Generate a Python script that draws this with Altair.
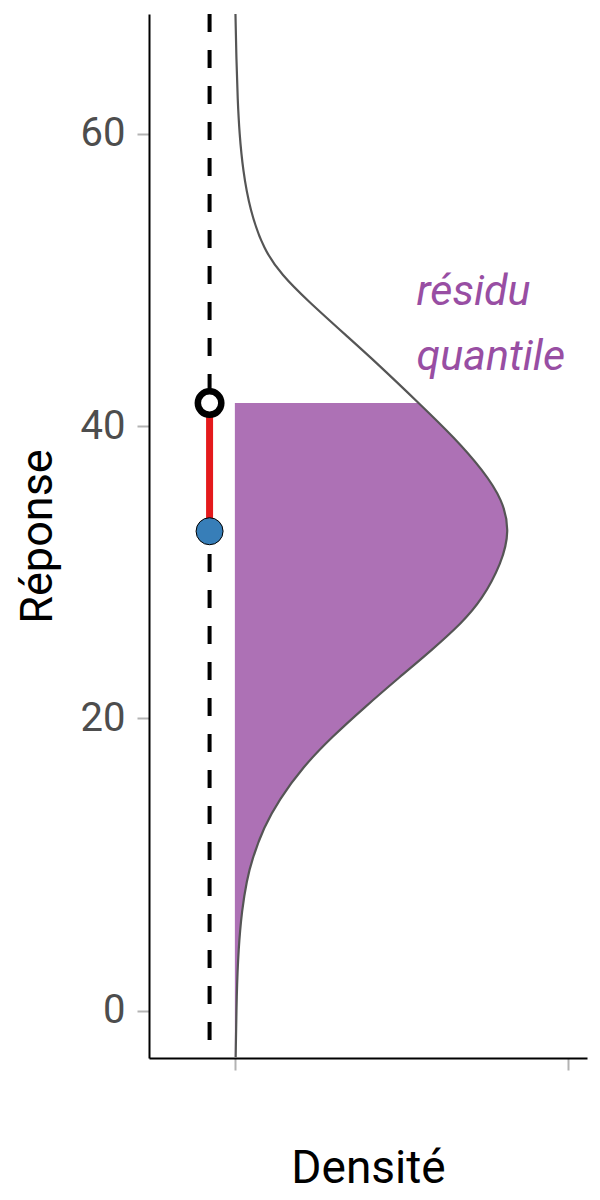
import altair as alt
import pandas as pd

# courbe de densité (réponse croissante)
reponse = [-3.18, 1.20, 4.15, 6.88, 8.94, 10.30, 12.56, 14.41, 16.67, 18.72, 20.77,
           22.83, 24.67, 26.52, 28.09, 30.63, 32.82, 34.94, 36.99, 39.18, 41.57,
           44.31, 46.09, 48.62, 50.33, 52.04, 54.78, 57.52, 60.05, 62.31, 65.04, 68.19]
densite = [0.00012, 0.00027, 0.00053, 0.00105, 0.0018, 0.00255, 0.00435, 0.00661,
           0.01021, 0.01456, 0.01952, 0.02477, 0.02958, 0.03408, 0.03709, 0.04009,
           0.04129, 0.04024, 0.03724, 0.03303, 0.02763, 0.02132, 0.01697, 0.01081,
           0.00706, 0.00435, 0.00225, 0.0012, 0.00068, 0.00042, 0.00023, 0.00009]

# observation et quantile
obs_x = [-0.0038]
observe = [32.8]
quantile = [41.57]

# annotation
lab_x = [0.0273]
lab_y = [48.3]
lab_txt = [["résidu", "quantile"]]

FONT = "Roboto"
PURPLE = "#984ea3"

courbe = pd.DataFrame({"reponse": reponse, "densite": densite})
obs = pd.DataFrame({"x": obs_x, "observe": observe, "quantile": quantile})
lab = pd.DataFrame({"x": lab_x, "y": lab_y, "t": lab_txt})

xs = alt.Scale(domain=[-0.0129, 0.0529], nice=False, zero=False)
ys = alt.Scale(domain=[-3.24, 68.19], nice=False, zero=False)

x_axis = alt.Axis(values=[0, 0.05], labels=False, grid=False, domainColor="black",
                  domainWidth=2, tickColor="#b3b3b3", tickWidth=2, tickSize=12,
                  title="Densité", titleFont=FONT, titleFontSize=46,
                  titleFontWeight="normal", titleColor="black", titlePadding=75)
y_axis = alt.Axis(values=[0, 20, 40, 60], grid=False, domainColor="black",
                  domainWidth=2, tickColor="#b3b3b3", tickWidth=2, tickSize=12,
                  labelFont=FONT, labelFontSize=40, labelColor="#4d4d4d",
                  labelPadding=12, title="Réponse", titleFont=FONT,
                  titleFontSize=45, titleFontWeight="normal", titleColor="black",
                  titlePadding=20)

tirets = alt.Chart(obs).mark_rule(color="black", strokeWidth=4,
                                  strokeDash=[18, 18]).encode(
    x=alt.X("x:Q", scale=xs, axis=x_axis)
)

residu = alt.Chart(obs).mark_rule(color="#e41a1c", strokeWidth=7).encode(
    x=alt.X("x:Q", scale=xs),
    y=alt.Y("observe:Q", scale=ys, axis=y_axis),
    y2="quantile:Q",
)

pt_obs = alt.Chart(obs).mark_circle(size=729, color="#377eb8", stroke="black",
                                    strokeWidth=1, opacity=1).encode(
    x=alt.X("x:Q", scale=xs), y=alt.Y("observe:Q", scale=ys)
)

pt_q = alt.Chart(obs).mark_circle(size=552, fill="white", stroke="black",
                                  strokeWidth=6.5, opacity=1).encode(
    x=alt.X("x:Q", scale=xs), y=alt.Y("quantile:Q", scale=ys)
)

aire = alt.Chart(courbe).transform_filter(
    alt.datum.reponse <= quantile[0]
).mark_area(orient="horizontal", interpolate="basis", color=PURPLE,
            opacity=0.8).encode(
    x=alt.X("densite:Q", scale=xs),
    x2=alt.datum(0),
    y=alt.Y("reponse:Q", scale=ys),
)

ligne = alt.Chart(courbe).mark_line(orient="horizontal", interpolate="basis",
                                    color="#555555", strokeWidth=2.2).encode(
    x=alt.X("densite:Q", scale=xs),
    y=alt.Y("reponse:Q", scale=ys),
    order="reponse:Q",
)

texte = alt.Chart(lab).mark_text(align="left", baseline="alphabetic", font=FONT,
                                 fontStyle="italic", fontSize=43, lineHeight=65,
                                 color=PURPLE).encode(
    x=alt.X("x:Q", scale=xs), y=alt.Y("y:Q", scale=ys), text="t"
)

chart = alt.layer(tirets, aire, ligne, residu, pt_q, pt_obs, texte).properties(
    width=438, height=1044,
    autosize=alt.AutoSizeParams(type="none"),
    padding={"left": 141, "top": 6, "right": 5, "bottom": 134},
).configure_view(stroke=None)

chart.save("out.html", embed_options={"renderer": "svg", "actions": False})
